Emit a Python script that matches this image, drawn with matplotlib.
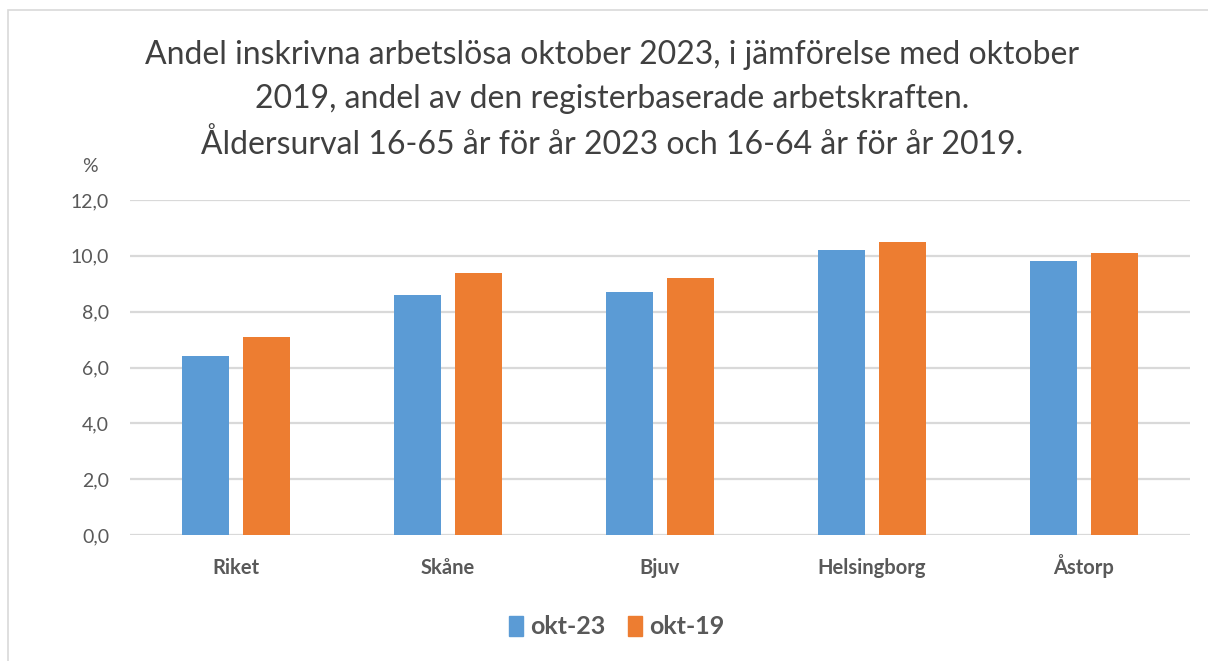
import matplotlib
matplotlib.use("Agg")
import matplotlib.pyplot as plt
import numpy as np
from matplotlib.patches import Rectangle, Patch

categories = ["Riket", "Skåne", "Bjuv", "Helsingborg", "Åstorp"]
okt23 = [6.4, 8.6, 8.7, 10.2, 9.8]
okt19 = [7.1, 9.4, 9.2, 10.5, 10.1]
series_names = ["okt-23", "okt-19"]
yticks = [0, 2, 4, 6, 8, 10, 12]

plt.rcParams["font.family"] = ["Lato", "DejaVu Sans"]
W, H = 1208, 661
fig = plt.figure(figsize=(W / 100, H / 100), dpi=100)
fig.patch.set_facecolor("white")

# chart border
fig.patches.append(Rectangle((8 / W, -0.05), 1.2, (H - 10) / H + 0.05, transform=fig.transFigure,
                             fill=False, edgecolor="#D9D9D9", linewidth=1.2))

ax = fig.add_axes([130 / W, (H - 535) / H, 1060 / W, 335 / H])
x = np.arange(len(categories))
bw = 0.224
ax.bar(x - 0.143, okt23, bw, color="#5B9BD5", zorder=3)
ax.bar(x + 0.143, okt19, bw, color="#ED7D31", zorder=3)
ax.set_xlim(-0.5, len(categories) - 0.5)
ax.set_ylim(0, 12)
ax.set_yticks(yticks)
ax.set_yticklabels([f"{v:.1f}".replace(".", ",") for v in yticks], color="#595959", fontsize=14)
ax.set_xticks(x)
ax.set_xticklabels(categories, fontsize=14.5, fontweight="bold", color="#595959", va="baseline")
ax.tick_params(length=0, axis="y", pad=15)
ax.tick_params(length=0, axis="x", pad=28)
ax.grid(axis="y", color="#D9D9D9", linewidth=1.6, zorder=0)
for s in ax.spines.values():
    s.set_visible(False)

fig.text(612 / W, 1 - 100 / H,
         "Andel inskrivna arbetslösa oktober 2023, i jämförelse med oktober\n"
         "2019, andel av den registerbaserade arbetskraften.\n"
         "Åldersurval 16-65 år för år 2023 och 16-64 år för år 2019.",
         ha="center", va="center", fontsize=23, color="#404040", linespacing=1.6)
fig.text(90 / W, 1 - 167 / H, "%", ha="center", va="center", fontsize=14, color="#595959")

handles = [Patch(color="#5B9BD5"), Patch(color="#ED7D31")]
fig.legend(handles, series_names, loc="center", bbox_to_anchor=(617 / W, 1 - 627 / H), ncol=2,
           frameon=False, handlelength=0.55, handleheight=0.9, handletextpad=0.3,
           columnspacing=0.9, labelcolor="#595959", prop={"weight": "bold", "size": 18})

fig.savefig("out.png", dpi=100)
